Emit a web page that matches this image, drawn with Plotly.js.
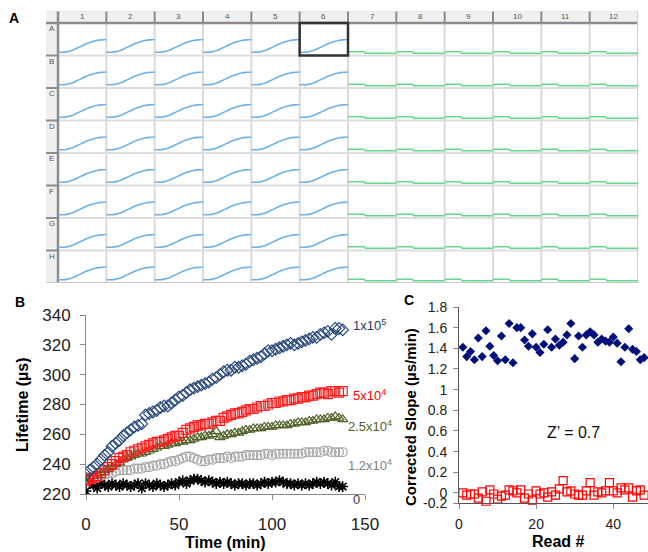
<!DOCTYPE html>
<html>
<head>
<meta charset="utf-8">
<script src="https://cdn.plot.ly/plotly-3.0.1.min.js"></script>
<style>html,body{margin:0;padding:0;background:#fff;}#chart{width:648px;height:552px;}</style>
</head>
<body>
<div id="chart"></div>
<script>
// ---------- Panel A: plate layout ----------
const plateCols = ['1','2','3','4','5','6','7','8','9','10','11','12'];
const plateRows = ['A','B','C','D','E','F','G','H'];
const blueWellCols = [0,1,2,3,4,5];
const greenWellCols = [6,7,8,9,10,11];
// kinetic trace profile inside a well (fraction of width, fraction of height from bottom)
const blueT = [0, 0.1, 0.2, 0.3, 0.4, 0.5, 0.6, 0.7, 0.8, 0.9, 1.0];
const blueH = [0.10, 0.10, 0.12, 0.16, 0.23, 0.30, 0.37, 0.42, 0.46, 0.48, 0.49];
const greenT = [0, 0.33, 0.36, 1.0];
const greenH = [0.115, 0.115, 0.07, 0.07];

// ---------- Panel B: lifetime vs time ----------
const timeMin = [0,2,4,6,8,10,12,14,16,18,20,22,24,26,28,30,32,34,36,38,40,42,44,46,48,50,52,54,56,58,60,62,64,66,68,70,72,74,76,78,80,82,84,86,88,90,92,94,96,98,100,102,104,106,108,110,112,114,116,118,120,122,124,126,128,130,132,134,136,138];
const life1e5 = [233,236,238,240,243,246,248,252,254,256,259,261,263,265,266,267,273,274,275,276,278,279,279,281,283,285,286,288,290,291,292,293,294,295,297,298,300,302,303,303,305,305,306,307,309,310,311,312,314,316,316,317,318,319,320,321,320,321,322,323,324,325,325,327,328,329,327,331,331,330];
const life5e4 = [229,230,231,232,234,236,238,240,242,244,245,246,248,249,250,251,252,253,254,255,255,256,257,258,259,259,261,263,264,265,266,266,267,267,268,269,269,271,272,273,274,274,275,276,277,277,278,279,279,280,281,281,282,282,283,283,284,284,285,285,286,286,287,288,288,287,289,289,288,289];
const life25e3 = [230,231,232,233,234,236,237,238,240,241,243,244,245,246,247,247,248,249,250,251,252,252,253,254,254,255,255,256,256,257,258,258,259,259,260,262,258,259,260,260,261,261,262,263,263,264,264,264,265,265,265,266,266,266,266,267,267,268,268,268,269,269,270,270,270,271,271,272,271,270];
const life12e3 = [229,230,230,231,232,233,234,234,235,236,236,236,236,237,237,237,238,238,239,239,240,240,241,242,242,243,244,245,245,244,243,242,242,243,243,244,244,244,245,244,245,245,245,246,246,246,246,246,247,247,246,247,247,247,247,247,247,247,247,248,248,248,248,248,249,249,248,248,248,248];
const life0 = [222,228,226,224,227,226,225,227,226,225,227,226,225,226,227,224,227,226,225,227,226,225,226,227,226,228,229,227,229,230,230,229,228,229,228,227,228,227,228,227,226,227,227,226,227,227,226,227,228,227,228,228,229,228,227,227,226,227,226,227,226,227,228,227,228,227,226,228,225,225];
const bLabels = ['1x10<sup>5</sup>','5x10<sup>4</sup>','2.5x10<sup>4</sup>','1.2x10<sup>4</sup>','0'];
const bTicksX = [0,50,100,150];

// ---------- Panel C: corrected slope per read ----------
const readNum = [1,2,3,4,5,6,7,8,9,10,11,12,13,14,15,16,17,18,19,20,21,22,23,24,25,26,27,28,29,30,31,32,33,34,35,36,37,38,39,40,41,42,43,44,45,46,47,48];
const slopeHigh = [1.41,1.32,1.37,1.29,1.50,1.32,1.57,1.42,1.33,1.28,1.52,1.29,1.64,1.26,1.60,1.60,1.48,1.42,1.54,1.41,1.36,1.44,1.58,1.41,1.49,1.43,1.46,1.53,1.64,1.30,1.52,1.41,1.53,1.56,1.53,1.46,1.49,1.47,1.46,1.51,1.45,1.27,1.41,1.59,1.39,1.37,1.29,1.31];
const slopeLow = [0.00,-0.02,-0.01,-0.01,-0.05,0.01,-0.08,0.03,-0.01,-0.06,-0.03,-0.02,0.03,0.02,0.00,0.03,-0.05,-0.01,-0.07,0.02,-0.01,0.00,-0.04,0.01,-0.02,0.04,0.12,0.01,0.02,-0.01,-0.02,-0.02,0.02,0.10,-0.02,0.01,0.00,0.02,0.10,0.02,0.00,0.05,0.03,0.05,-0.04,0.02,0.03,-0.02];
const cTickVals = [-0.1,0,0.2,0.4,0.6,0.8,1,1.2,1.4,1.6,1.8];
const cTickText = ['-0.2','0','0.2','0.4','0.6','0.8','1','1.2','1.4','1.6','1.8'];
const cTicksX = [0,20,40];

// ---------- build ----------
const W = 648, H = 552;
const px = v => v / W;
const py = v => 1 - v / H;
const FONT = 'Liberation Sans, Arial, sans-serif';

const nC = plateCols.length, nR = plateRows.length;
const hdrW = 0.2484, hdrH = 0.3692;

function wellTrace(cols, tt, hh, color, shape) {
  const xs = [], ys = [];
  for (let r = 0; r < nR; r++) {
    for (const c of cols) {
      for (let i = 0; i < tt.length; i++) { xs.push(c + tt[i]); ys.push(r + 1 - hh[i]); }
      xs.push(null); ys.push(null);
    }
  }
  return {x: xs, y: ys, xaxis: 'x3', yaxis: 'y3', mode: 'lines', type: 'scatter',
    line: {color: color, width: 1.6, shape: shape}, hoverinfo: 'skip', showlegend: false};
}

const traces = [
  wellTrace(blueWellCols, blueT, blueH, '#6fb2ea', 'spline'),
  wellTrace(greenWellCols, greenT, greenH, '#62d98a', 'linear'),
  {x: timeMin, y: life0, mode: 'markers', type: 'scatter', marker: {symbol: 'asterisk-open', size: 9, color: '#000', line: {color: '#000', width: 1.6}}},
  {x: timeMin, y: life12e3, mode: 'markers', type: 'scatter', marker: {symbol: 'circle-open', size: 9, color: '#a6a6a6', line: {color: '#a6a6a6', width: 1.2}}},
  {x: timeMin, y: life25e3, mode: 'markers', type: 'scatter', marker: {symbol: 'triangle-up-open', size: 9, color: '#4f6228', line: {color: '#4f6228', width: 1.2}}},
  {x: timeMin, y: life5e4, mode: 'markers', type: 'scatter', marker: {symbol: 'square-open', size: 9, color: '#ff1a1a', line: {color: '#ff1a1a', width: 1.2}}},
  {x: timeMin, y: life1e5, mode: 'markers', type: 'scatter', marker: {symbol: 'diamond-open', size: 9, color: '#2a4a7c', line: {color: '#2a4a7c', width: 1.2}}},
  {x: readNum, y: slopeHigh, xaxis: 'x2', yaxis: 'y2', mode: 'markers', type: 'scatter', cliponaxis: false, marker: {symbol: 'diamond', size: 7, color: '#00107a'}},
  {x: readNum, y: slopeLow, xaxis: 'x2', yaxis: 'y2', mode: 'markers', type: 'scatter', cliponaxis: false, marker: {symbol: 'square-open', size: 8, color: '#ff0000', line: {color: '#ff0000', width: 1.2}}}
];
traces.forEach(t => { t.showlegend = false; t.hoverinfo = 'skip'; });

// plate shapes
const shapes = [];
const S = (o) => Object.assign({xref: 'x3', yref: 'y3', layer: 'below'}, o);
shapes.push(S({type: 'rect', x0: -hdrW, x1: nC, y0: -hdrH, y1: 0, fillcolor: '#f0f0f0', line: {width: 0}}));
shapes.push(S({type: 'rect', x0: -hdrW, x1: 0, y0: 0, y1: nR, fillcolor: '#f0f0f0', line: {width: 0}}));
for (let c = 1; c < nC; c++) {
  shapes.push(S({type: 'line', x0: c, x1: c, y0: 0, y1: nR, line: {color: '#dadada', width: 2}}));
  shapes.push(S({type: 'line', x0: c, x1: c, y0: -hdrH, y1: 0, line: {color: '#8c8c8c', width: 2}}));
}
for (let r = 1; r < nR; r++) {
  shapes.push(S({type: 'line', x0: 0, x1: nC, y0: r, y1: r, line: {color: '#dedede', width: 2}}));
  shapes.push(S({type: 'line', x0: -hdrW, x1: 0, y0: r, y1: r, line: {color: '#8c8c8c', width: 2}}));
}
shapes.push(S({type: 'line', x0: -hdrW, x1: nC, y0: 0, y1: 0, line: {color: '#8c8c8c', width: 2.5}}));
shapes.push(S({type: 'line', x0: 0, x1: 0, y0: -hdrH, y1: nR, line: {color: '#8c8c8c', width: 2.5}}));
shapes.push(S({type: 'line', x0: nC, x1: nC, y0: -hdrH, y1: nR, line: {color: '#cfcfcf', width: 2}}));
shapes.push(S({type: 'line', x0: -hdrW, x1: nC, y0: nR, y1: nR, line: {color: '#c8c8c8', width: 2}}));
shapes.push(S({type: 'line', x0: -hdrW, x1: nC, y0: -hdrH, y1: -hdrH, line: {color: '#e0e0e0', width: 1}}));
shapes.push(S({type: 'rect', x0: 5, x1: 6, y0: 0, y1: 1, line: {color: '#333', width: 2.5}, layer: 'above'}));

const ann = [];
plateCols.forEach((t, i) => ann.push({xref: 'x3', yref: 'y3', x: i + 0.5, y: -hdrH / 2, text: t, showarrow: false,
  font: {family: FONT, size: 8, color: '#555'}}));
plateRows.forEach((t, i) => ann.push({xref: 'x3', yref: 'y3', x: -0.13, y: i + 0.17, text: t, showarrow: false,
  font: {family: FONT, size: 8, color: '#555'}}));

const A = (x, y, text, o) => Object.assign({xref: 'paper', yref: 'paper', x: px(x), y: py(y), text: text,
  showarrow: false, xanchor: 'center', yanchor: 'middle', font: {family: FONT, size: 16, color: '#000'}}, o || {});
ann.push(A(14, 18, '<b>A</b>', {font: {family: FONT, size: 14, color: '#000'}}));
ann.push(A(20, 302, '<b>B</b>', {font: {family: FONT, size: 14, color: '#000'}}));
ann.push(A(409, 300, '<b>C</b>', {font: {family: FONT, size: 14, color: '#000'}}));
ann.push(A(22, 405, '<b>Lifetime (µs)</b>', {textangle: -90}));
ann.push(A(225, 542, '<b>Time (min)</b>'));
ann.push(A(410, 417, '<b>Corrected Slope (µs/min)</b>', {textangle: -90, font: {family: FONT, size: 15, color: '#000'}}));
ann.push(A(558, 541, '<b>Read #</b>'));
ann.push(A(573, 432, 'Z’ = 0.7', {font: {family: FONT, size: 16, color: '#111'}}));
const labCol = ['#1f3864', '#ff0000', '#4f6228', '#7f7f7f', '#404040'];
const labPos = [[351, 325], [351, 395], [346, 426], [346, 465], [351, 499]];
bLabels.forEach((t, i) => ann.push(A(labPos[i][0], labPos[i][1], t,
  {xanchor: 'left', font: {family: FONT, size: 13, color: labCol[i]}})));

const axBase = {showgrid: false, zeroline: false, showline: true, linecolor: '#8a8a8a', linewidth: 1,
  ticks: 'outside', ticklen: 5, tickcolor: '#8a8a8a', fixedrange: true};

const layout = {
  width: W, height: H, margin: {l: 0, r: 0, t: 0, b: 0}, paper_bgcolor: '#fff', plot_bgcolor: 'rgba(0,0,0,0)',
  showlegend: false, font: {family: FONT},
  xaxis: Object.assign({}, axBase, {domain: [px(86), px(365)], range: [0, 150], anchor: 'y',
    tickvals: bTicksX, tickfont: {size: 17, color: '#222'}, ticklabelstandoff: 10}),
  yaxis: Object.assign({}, axBase, {domain: [1 - 494 / H, 1 - 315 / H], range: [220, 340], anchor: 'x',
    dtick: 20, tickfont: {size: 17, color: '#222'}, ticklabelstandoff: 6}),
  xaxis2: Object.assign({}, axBase, {domain: [px(459), 1], range: [0, 49], anchor: 'y2',
    tickvals: cTicksX, tickfont: {size: 14, color: '#222'}, ticklabelstandoff: 3, linecolor: '#555'}),
  yaxis2: Object.assign({}, axBase, {domain: [1 - 503.3 / H, 1 - 307 / H], range: [-0.1, 1.8], anchor: 'x2',
    tickvals: cTickVals, ticktext: cTickText, tickfont: {size: 14, color: '#222'}, ticklabelstandoff: 3, linecolor: '#555'}),
  xaxis3: {domain: [px(46), px(638)], range: [-hdrW, nC], anchor: 'y3', showgrid: false, zeroline: false,
    showline: false, showticklabels: false, ticks: '', fixedrange: true},
  yaxis3: {domain: [1 - 283 / H, 1 - 11 / H], range: [nR, -hdrH], anchor: 'x3', showgrid: false, zeroline: false,
    showline: false, showticklabels: false, ticks: '', fixedrange: true},
  shapes: shapes,
  annotations: ann
};

Plotly.newPlot('chart', traces, layout, {staticPlot: true, displayModeBar: false});
</script>
</body>
</html>
